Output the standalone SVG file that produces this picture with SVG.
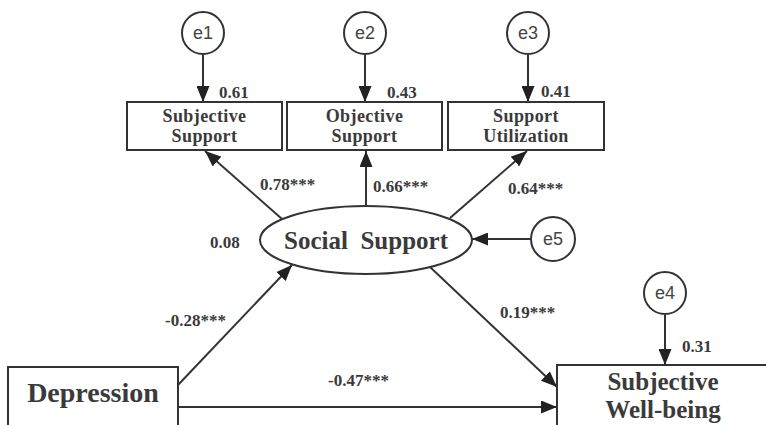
<svg xmlns="http://www.w3.org/2000/svg" width="766" height="425" viewBox="0 0 766 425">
<style>
.box{fill:#fff;stroke:#333;stroke-width:2}
.err{fill:#fff;stroke:#333;stroke-width:2}
.et{font-family:"Liberation Sans",Arial,sans-serif;font-size:18px;fill:#444;text-anchor:middle}
.bt{font-family:"Liberation Serif","Times New Roman",serif;font-weight:bold;fill:#3a3a3a;text-anchor:middle}
.sm{font-size:18px;letter-spacing:0.4px}
.lab{font-family:"Liberation Serif","Times New Roman",serif;font-weight:bold;font-size:17px;fill:#3a3a3a}
.c{stroke:#333;stroke-width:2;fill:none;marker-end:url(#ah)}
</style>
<defs>
<marker id="ah" markerUnits="userSpaceOnUse" markerWidth="16" markerHeight="13" refX="16" refY="6.5" orient="auto">
<path d="M0,0 L16,6.5 L0,13 z" fill="#222"/>
</marker>
</defs>
<rect width="766" height="425" fill="#fff"/>
<g id="connectors">
<line class="c" x1="203" y1="55" x2="203" y2="102"/>
<line class="c" x1="365" y1="55" x2="365" y2="102"/>
<line class="c" x1="528" y1="55" x2="528" y2="102"/>
<line class="c" x1="282" y1="219" x2="205" y2="151"/>
<line class="c" x1="366" y1="206" x2="366" y2="151"/>
<line class="c" x1="450" y1="218" x2="527" y2="151"/>
<line class="c" x1="531" y1="239" x2="472" y2="239"/>
<line class="c" x1="178" y1="385" x2="292" y2="265"/>
<line class="c" x1="430" y1="267" x2="557" y2="387"/>
<line class="c" x1="178" y1="407" x2="557" y2="407"/>
<line class="c" x1="665" y1="315" x2="665" y2="365"/>
</g>
<g id="labels">
<text class="lab" x="219" y="98">0.61</text>
<text class="lab" x="387" y="98">0.43</text>
<text class="lab" x="541" y="97">0.41</text>
<text class="lab" x="260" y="190">0.78***</text>
<text class="lab" x="373" y="192">0.66***</text>
<text class="lab" x="508" y="194">0.64***</text>
<text class="lab" x="210" y="248">0.08</text>
<text class="lab" x="165" y="326">-0.28***</text>
<text class="lab" x="500" y="318">0.19***</text>
<text class="lab" x="682" y="352">0.31</text>
<text class="lab" x="328" y="386">-0.47***</text>
</g>
<g id="e1"><circle class="err" cx="203" cy="33" r="21"/><text class="et" x="203" y="39">e1</text></g>
<g id="e2"><circle class="err" cx="365" cy="33" r="21"/><text class="et" x="365" y="39">e2</text></g>
<g id="e3"><circle class="err" cx="528" cy="33" r="21"/><text class="et" x="528" y="39">e3</text></g>
<g id="e5"><circle class="err" cx="553" cy="239" r="22"/><text class="et" x="553" y="245">e5</text></g>
<g id="e4"><circle class="err" cx="665" cy="293" r="21"/><text class="et" x="665" y="299">e4</text></g>
<g id="subjective-support"><rect class="box" x="127" y="102" width="155" height="48"/><text class="bt sm" x="204.5" y="122">Subjective</text><text class="bt sm" x="204.5" y="142">Support</text></g>
<g id="objective-support"><rect class="box" x="287" y="102" width="155" height="48"/><text class="bt sm" x="364.5" y="122">Objective</text><text class="bt sm" x="364.5" y="142">Support</text></g>
<g id="support-utilization"><rect class="box" x="448" y="102" width="156" height="48"/><text class="bt sm" x="526" y="122">Support</text><text class="bt sm" x="526" y="142">Utilization</text></g>
<g id="social-support"><ellipse class="box" cx="366" cy="240" rx="106" ry="34"/><text class="bt" font-size="25" x="366" y="249" style="white-space:pre">Social  Support</text></g>
<g id="depression"><rect class="box" x="8" y="367" width="170" height="80"/><text class="bt" font-size="28" x="93" y="402">Depression</text></g>
<g id="subjective-well-being"><rect class="box" x="557" y="365" width="230" height="80"/><text class="bt" font-size="25" x="663" y="390">Subjective</text><text class="bt" font-size="25" x="663" y="418">Well-being</text></g>
</svg>
